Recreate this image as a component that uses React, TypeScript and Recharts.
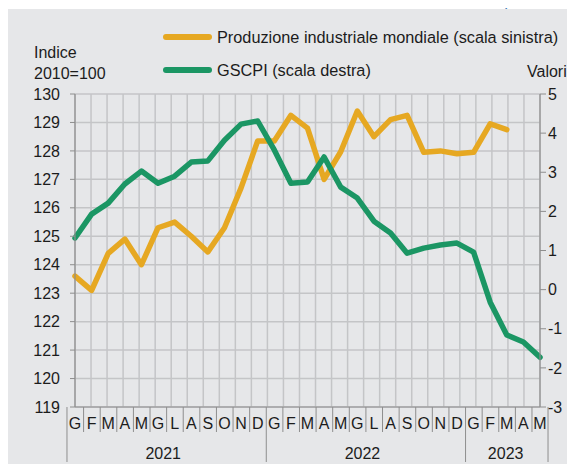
import React from 'react';
import { ComposedChart, Line, XAxis, YAxis, CartesianGrid } from 'recharts';

// ---- data ----
const months = [
  'G', 'F', 'M', 'A', 'M', 'G', 'L', 'A', 'S', 'O', 'N', 'D',
  'G', 'F', 'M', 'A', 'M', 'G', 'L', 'A', 'S', 'O', 'N', 'D',
  'G', 'F', 'M', 'A', 'M',
];
const years = ['2021', '2022', '2023'];
const monthsPerYear = [12, 12, 5];

const produzione: (number | null)[] = [
  123.6, 123.1, 124.4, 124.9, 124.0, 125.3, 125.5, 125.0, 124.45, 125.3, 126.7, 128.35,
  128.35, 129.25, 128.8, 127.0, 127.97, 129.4, 128.5, 129.1, 129.25, 127.95, 128.0, 127.9,
  127.95, 128.95, 128.75, null, null,
];
const gscpi: number[] = [
  1.32, 1.93, 2.21, 2.7, 3.03, 2.72, 2.9, 3.26, 3.29, 3.82, 4.23, 4.31,
  3.57, 2.72, 2.75, 3.39, 2.62, 2.34, 1.75, 1.45, 0.93, 1.06, 1.14, 1.19,
  0.96, -0.32, -1.16, -1.34, -1.73,
];
const leftTicks = [119, 120, 121, 122, 123, 124, 125, 126, 127, 128, 129, 130];
const rightTicks = [-3, -2, -1, 0, 1, 2, 3, 4, 5];

const legendItems = [
  { label: 'Produzione industriale mondiale (scala sinistra)', color: '#e6a822' },
  { label: 'GSCPI (scala destra)', color: '#1b9664' },
];

const data = months.map((m, i) => ({ i, m, p: produzione[i], g: gscpi[i] }));

// ---- layout ----
const W = 567;
const H = 463;
const PLOT_L = 67;
const PLOT_R = 532;
const PLOT_T = 85;
const PLOT_B = 398;
const BAND = (PLOT_R - PLOT_L) / months.length;
const FONT = '"Liberation Sans", Arial, Helvetica, sans-serif';
const TEXT = '#1c1c1c';
const GRID = '#c4c5c7';
const AXIS = '#8e8e8e';

const yearStarts: number[] = [];
{
  let acc = 0;
  monthsPerYear.forEach((c) => {
    yearStarts.push(acc);
    acc += c;
  });
}

const MonthTick = (props: any) => {
  const { x, y, payload } = props;
  const i: number = Number(payload.value);
  const left = x - BAND / 2;
  const right = x + BAND / 2;
  const isYearStart = yearStarts.includes(i);
  const isLast = i === months.length - 1;
  const yIdx = yearStarts.indexOf(i);
  let yearLabel = null;
  if (yIdx >= 0) {
    const cx = left + (monthsPerYear[yIdx] * BAND) / 2;
    yearLabel = (
      <text x={cx} y={y + 52} textAnchor="middle" fill={TEXT} fontSize={16} fontFamily={FONT}>
        {years[yIdx]}
      </text>
    );
  }
  return (
    <g>
      <line x1={left} x2={left} y1={y} y2={isYearStart ? y + 55 : y + 25} stroke={AXIS} strokeWidth={1} />
      {isLast && <line x1={right} x2={right} y1={y} y2={y + 55} stroke={AXIS} strokeWidth={1} />}
      <text x={x} y={y + 22} textAnchor="middle" fill={TEXT} fontSize={16} fontFamily={FONT}>
        {months[i]}
      </text>
      {yearLabel}
    </g>
  );
};

const vGen = (args: any) => {
  const off = args.offset;
  const out: number[] = [];
  for (let k = 0; k <= months.length; k++) out.push(off.left + (k * off.width) / months.length);
  return out;
};
const hGen = (args: any) => {
  const off = args.offset;
  const n = leftTicks.length - 1;
  const out: number[] = [];
  for (let k = 0; k <= n; k++) out.push(off.top + (k * off.height) / n);
  return out;
};

export default function App() {
  return (
    <div
      style={{
        position: 'relative',
        paddingTop: 1,
        marginBottom: -8,
        height: H,
        width: W,
        fontFamily: FONT,
        overflow: 'visible',
      }}
    >
      <style>{'html, body { overflow: hidden; }'}</style>
      <span
        style={{
          position: 'absolute',
          left: 497,
          top: -15,
          fontSize: 16,
          lineHeight: '16px',
          color: '#2f74b5',
        }}
      >
        )
      </span>
      <div style={{ position: 'relative', width: W, height: H, background: '#e6e7e9' }}>
        <ComposedChart
          width={W}
          height={H}
          data={data}
          margin={{ top: PLOT_T, right: 0, bottom: 0, left: 0 }}
        >
          <CartesianGrid
            stroke={GRID}
            strokeWidth={1.5}
            verticalCoordinatesGenerator={vGen}
            horizontalCoordinatesGenerator={hGen}
          />
          <XAxis
            dataKey="i"
            type="category"
            interval={0}
            height={H - PLOT_B}
            tickLine={false}
            tickSize={0}
            tickMargin={0}
            axisLine={{ stroke: AXIS, strokeWidth: 1.2 }}
            tick={<MonthTick />}
          />
          <YAxis
            yAxisId="left"
            orientation="left"
            width={PLOT_L}
            domain={[119, 130]}
            ticks={leftTicks}
            interval={0}
            allowDataOverflow
            tickSize={5}
            tickMargin={10}
            axisLine={{ stroke: AXIS, strokeWidth: 1.2 }}
            tickLine={{ stroke: AXIS }}
            tick={{ fill: TEXT, fontSize: 16, fontFamily: FONT }}
          />
          <YAxis
            yAxisId="right"
            orientation="right"
            width={W - PLOT_R}
            domain={[-3, 5]}
            ticks={rightTicks}
            interval={0}
            allowDataOverflow
            tickSize={6}
            tickMargin={2}
            axisLine={{ stroke: AXIS, strokeWidth: 1.2 }}
            tickLine={{ stroke: AXIS }}
            tick={{ fill: TEXT, fontSize: 16, fontFamily: FONT, textAnchor: 'start' }}
          />
          <Line
            yAxisId="left"
            dataKey="p"
            type="linear"
            stroke={legendItems[0].color}
            strokeWidth={5.5}
            strokeLinecap="round"
            strokeLinejoin="round"
            dot={false}
            activeDot={false}
            isAnimationActive={false}
          />
          <Line
            yAxisId="right"
            dataKey="g"
            type="linear"
            stroke={legendItems[1].color}
            strokeWidth={5.5}
            strokeLinecap="round"
            strokeLinejoin="round"
            dot={false}
            activeDot={false}
            isAnimationActive={false}
          />
        </ComposedChart>

        <div style={{ position: 'absolute', left: 26, top: 36, fontSize: 16, lineHeight: '16px', color: TEXT }}>
          Indice
        </div>
        <div style={{ position: 'absolute', left: 26, top: 57, fontSize: 16, lineHeight: '16px', color: TEXT }}>
          2010=100
        </div>
        <div
          style={{
            position: 'absolute',
            left: 519,
            top: 55,
            fontSize: 16,
            lineHeight: '16px',
            color: TEXT,
            whiteSpace: 'nowrap',
          }}
        >
          Valori
        </div>

        {legendItems.map((it, k) => (
          <div
            key={it.label}
            style={{
              position: 'absolute',
              left: 155,
              top: (k === 0 ? 36.5 : 70) - 9 - 8,
              height: 16,
              display: 'flex',
              alignItems: 'center',
              whiteSpace: 'nowrap',
            }}
          >
            <div style={{ width: 49, height: 6, borderRadius: 3, background: it.color }} />
            <div style={{ marginLeft: 5, fontSize: 16.3, lineHeight: '16px', color: TEXT }}>{it.label}</div>
          </div>
        ))}
      </div>
    </div>
  );
}
